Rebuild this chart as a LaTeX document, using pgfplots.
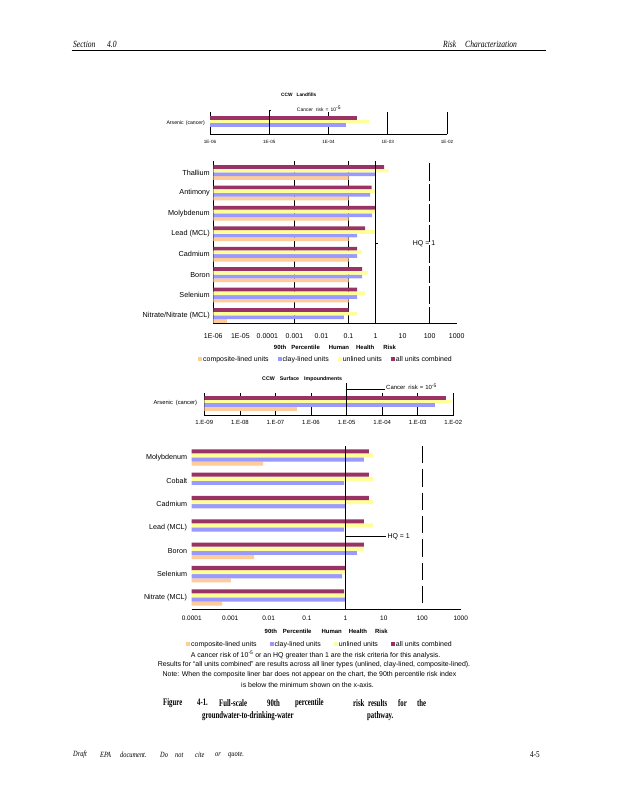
\documentclass[border=0pt]{standalone}
\usepackage{fontspec}
\setmainfont{Liberation Serif}
\setsansfont{Liberation Sans}
\newfontfamily\capfont[FakeStretch=0.68]{Liberation Serif}
\newfontfamily\hdfont[FakeStretch=0.8]{Liberation Serif}
\usepackage{pgfplots}
\pgfplotsset{compat=1.18}

\definecolor{allc}{HTML}{993366}
\definecolor{unl}{HTML}{FFFF99}
\definecolor{clay}{HTML}{9999FF}
\definecolor{comp}{HTML}{FFCC99}
\newcommand{\fs}[1]{\sffamily\fontsize{#1}{#1}\selectfont}

\begin{document}
\begin{tikzpicture}[x=1bp,y=1bp]
\fill[white] (0,0) rectangle (618,800);
\path[use as bounding box] (0,0) rectangle (618,800);

% page header and footer
\begin{scope}[every node/.style={inner sep=0pt, anchor=west}]
\node[font=\hdfont\itshape\fontsize{9.5}{10}\selectfont] at (73,756) {Section};
\node[font=\hdfont\itshape\fontsize{9.5}{10}\selectfont] at (107,756) {4.0};
\node[font=\hdfont\itshape\fontsize{9.5}{10}\selectfont] at (443,756) {Risk};
\node[font=\hdfont\itshape\fontsize{9.5}{10}\selectfont] at (465,756) {Characterization};
\draw[black, line width=1.1bp] (71.7,749.3) -- (545.7,749.3);
\foreach \w/\xx in {Draft/73, EPA/100, document./120, Do/160, not/175, cite/195, or/215, quote./228}
  \node[font=\hdfont\itshape\fontsize{8}{9}\selectfont] at (\xx,45) {\w};
\node[font=\hdfont\fontsize{9}{10}\selectfont] at (530,45) {4-5};
\end{scope}

% ---------------- CCW Landfills, arsenic ----------------
\node[font=\fs{4.8}\bfseries, anchor=west, inner sep=0pt] at (281,705) {CCW\hspace{4bp}Landfills};
\node[font=\fs{5}, anchor=west, inner sep=0pt] at (296.7,691) {Cancer\hspace{3bp}risk\hspace{2bp}=\hspace{2bp}10\textsuperscript{-5}};
\begin{axis}[scale only axis, anchor=south west, at={(210bp,665.5bp)}, width=237bp, height=22.5bp,
  xmode=log, log origin=infty, xbar=0pt, clip mode=individual,
  axis x line*=bottom, axis y line*=left,
  tick style={draw=none}, major tick length=0pt, minor tick length=0pt,
  axis line style={black, line width=0.6bp},
  xmin=1e-6, xmax=1e-2, ymin=-1.12, ymax=1.13, bar width=3.7bp,
  xtick={1e-6,1e-5,1e-4,1e-3,1e-2},
  xticklabels={1E-06,1E-05,1E-04,1E-03,1E-02},
  xmajorgrids, grid style={black, line width=0.6bp},
  xticklabel style={font=\fs{4.6}, anchor=center, yshift=-7.8bp},
  ytick={0}, yticklabels={Arsenic\hspace{2bp}(cancer)},
  yticklabel style={font=\fs{5.2}, anchor=east, inner sep=0pt, xshift=-5bp}]
\addplot[draw=none, fill=comp] coordinates {(5e-7,0)};
\addplot[draw=none, fill=clay] coordinates {(2.0e-4,0)};
\addplot[draw=none, fill=unl] coordinates {(4.9e-4,0)};
\addplot[draw=none, fill=allc] coordinates {(3.0e-4,0)};
\draw[black, line width=0.9bp] (axis cs:1e-5,-1.12) -- (axis cs:1e-5,1.33) -- (axis cs:1.07e-5,1.33);
\end{axis}

% ---------------- CCW Landfills, HQ ----------------
\begin{axis}[scale only axis, anchor=south west, at={(213.3bp,476.7bp)}, width=243.4bp, height=162.3bp,
  xmode=log, log origin=infty, xbar=0pt, clip mode=individual,
  axis x line*=bottom, axis y line*=left,
  tick style={draw=none}, major tick length=0pt, minor tick length=0pt,
  axis line style={black, line width=0.6bp},
  xmin=1e-6, xmax=1000, ymin=-0.382, ymax=7.563, bar width=3.7bp,
  xtick={1e-6,1e-5,1e-4,1e-3,1e-2,1e-1,1,10,100,1000},
  xticklabels={1E-06,1E-05,0.0001,0.001,0.01,0.1,1,10,100,1000},
  extra x ticks={1e-3,1e-1}, extra x tick labels={,},
  extra x tick style={grid=major, major grid style={black, line width=0.6bp}},
  xticklabel style={font=\fs{7}, anchor=center, yshift=-12.4bp},
  ytick={0,...,7},
  yticklabels={Nitrate/Nitrate (MCL),Selenium,Boron,Cadmium,Lead (MCL),Molybdenum,Antimony,Thallium},
  yticklabel style={font=\fs{7.3}, anchor=east, inner sep=0pt, xshift=-3.3bp},
  xlabel={90th\hspace{5bp}Percentile\hspace{9bp}Human\hspace{7bp}Health\hspace{9bp}Risk},
  xlabel style={font=\fs{6}\bfseries, at={(axis description cs:0.5,0)}, anchor=center, yshift=-24.4bp},
  legend columns=4, legend cell align=left,
  legend image code/.code={\fill[#1] (0bp,-2bp) rectangle (4bp,2bp);},
  legend style={at={(-0.0629,-0.2218)}, anchor=west, draw=none, fill=none, inner sep=0pt,
    nodes={inner sep=1bp}, font=\fs{7},
    /tikz/every even column/.append style={column sep=8bp}}]
\addplot[draw=none, fill=comp] coordinates {(3.2e-6,0) (0.1,1) (0.1,2) (0.1,3) (0.1,4) (0.1,5) (0.1,6) (0.1,7)};
\addplot[draw=none, fill=clay] coordinates {(0.068,0) (0.21,1) (0.32,2) (0.21,3) (0.21,4) (0.74,5) (0.63,6) (0.98,7)};
\addplot[draw=none, fill=unl] coordinates {(0.21,0) (0.41,1) (0.53,2) (0.32,3) (0.95,4) (0.95,5) (0.95,6) (3.0,7)};
\addplot[draw=none, fill=allc] coordinates {(0.1,0) (0.21,1) (0.32,2) (0.21,3) (0.41,4) (1.0,5) (0.72,6) (2.05,7)};
\legend{composite-lined units, clay-lined units, unlined units, all units combined}
\draw[black, line width=0.8bp] (axis cs:1,-0.382) -- (axis cs:1,7.563);
\draw[black, line width=0.8bp] (axis cs:1,3.534) -- (axis cs:1.2,3.534);
\draw[black, line width=0.8bp, dash pattern=on 17.43bp off 3bp] (axis cs:100,7.44) -- (axis cs:100,-0.382);
\end{axis}
\node[font=\fs{7}, anchor=west, inner sep=0pt] at (412.7,556.7) {HQ = 1};

% ---------------- CCW Surface Impoundments, arsenic ----------------
\node[font=\fs{5.3}\bfseries, anchor=west, inner sep=0pt] at (262,421) {CCW\hspace{5bp}Surface\hspace{5bp}Impoundments};
\node[font=\fs{6}, anchor=west, inner sep=0pt] at (386,413.3) {Cancer\hspace{3bp}risk\hspace{2bp}=\hspace{2bp}10\textsuperscript{-5}};
\begin{axis}[scale only axis, anchor=south west, at={(204.3bp,384.3bp)}, width=249bp, height=22.7bp,
  xmode=log, log origin=infty, xbar=0pt, clip mode=individual,
  axis x line*=bottom, axis y line*=left,
  tick style={draw=none}, major tick length=0pt, minor tick length=0pt,
  axis line style={black, line width=0.6bp},
  xmin=1e-9, xmax=1e-2, ymin=-1.24, ymax=1.03, bar width=3.7bp,
  xtick={1e-9,1e-8,1e-7,1e-6,1e-5,1e-4,1e-3,1e-2},
  xticklabels={1.E-09,1.E-08,1.E-07,1.E-06,1.E-05,1.E-04,1.E-03,1.E-02},
  xmajorgrids, grid style={black, line width=0.6bp},
  xticklabel style={font=\fs{6}, anchor=center, yshift=-6.6bp},
  ytick={0}, yticklabels={Arsenic\hspace{3bp}(cancer)},
  yticklabel style={font=\fs{5.8}, anchor=east, inner sep=0pt, xshift=-7bp}]
\addplot[draw=none, fill=comp] coordinates {(4.1e-7,0)};
\addplot[draw=none, fill=clay] coordinates {(3.1e-3,0)};
\addplot[draw=none, fill=unl] coordinates {(9.3e-3,0)};
\addplot[draw=none, fill=allc] coordinates {(6.3e-3,0)};
\draw[black, line width=1.1bp] (axis cs:1e-5,-1.24) -- (axis cs:1e-5,2.03);
\draw[black, line width=0.8bp] (axis cs:1e-5,1.43) -- (axis cs:1.2e-4,1.43);
\end{axis}

% ---------------- CCW Surface Impoundments, HQ ----------------
\begin{axis}[scale only axis, anchor=south west, at={(191.7bp,190.7bp)}, width=269bp, height=163.3bp,
  xmode=log, log origin=infty, xbar=0pt, clip mode=individual,
  axis x line*=bottom, axis y line*=left,
  tick style={draw=none}, major tick length=0pt, minor tick length=0pt,
  axis line style={black, line width=0.6bp}, y axis line style={draw=none},
  xmin=1e-4, xmax=1000, ymin=-0.506, ymax=6.493, bar width=4.1bp,
  xtick={1e-4,1e-3,1e-2,1e-1,1,10,100,1000},
  xticklabels={0.0001,0.001,0.01,0.1,1,10,100,1000},
  xticklabel style={font=\fs{6.5}, anchor=center, yshift=-9bp},
  ytick={0,...,6},
  yticklabels={Nitrate (MCL),Selenium,Boron,Lead (MCL),Cadmium,Cobalt,Molybdenum},
  yticklabel style={font=\fs{7.2}, anchor=east, inner sep=0pt, xshift=-4.4bp},
  xlabel={90th\hspace{6bp}Percentile\hspace{10bp}Human\hspace{7bp}Health\hspace{8bp}Risk},
  xlabel style={font=\fs{6}\bfseries, at={(axis description cs:0.5,0)}, anchor=center, yshift=-22.4bp},
  legend columns=4, legend cell align=left,
  legend image code/.code={\fill[#1] (0bp,-2bp) rectangle (4bp,2bp);},
  legend style={at={(-0.0212,-0.2143)}, anchor=west, draw=none, fill=none, inner sep=0pt,
    nodes={inner sep=1bp}, font=\fs{7},
    /tikz/every even column/.append style={column sep=12bp}}]
\addplot[draw=none, fill=comp] coordinates {(6.2e-4,0) (1.05e-3,1) (4.2e-3,2) (5e-5,3) (5e-5,4) (5e-5,5) (7.2e-3,6)};
\addplot[draw=none, fill=clay] coordinates {(1.0,0) (0.82,1) (2.0,2) (0.92,3) (1.0,4) (0.92,5) (3.0,6)};
\addplot[draw=none, fill=unl] coordinates {(1.0,0) (1.0,1) (3.0,2) (5.2,3) (5.2,4) (5.2,5) (5.2,6)};
\addplot[draw=none, fill=allc] coordinates {(0.92,0) (1.0,1) (3.0,2) (3.0,3) (4.1,4) (4.1,5) (4.1,6)};
\legend{composite-lined units, clay-lined units, unlined units, all units combined}
\draw[black, line width=0.8bp] (axis cs:1,-0.506) -- (axis cs:1,6.493);
\draw[black, line width=0.8bp] (axis cs:1,2.606) -- (axis cs:11.4,2.606);
\draw[black, line width=0.8bp, dash pattern=on 17.3bp off 6.03bp] (axis cs:100,6.493) -- (axis cs:100,-0.506);
\end{axis}
\node[font=\fs{7}, anchor=west, inner sep=0pt] at (387.3,263.3) {HQ = 1};

% ---------------- notes and caption ----------------
\begin{scope}[every node/.style={inner sep=0pt, font=\fs{7}}]
\node at (315.5,145) {A cancer risk of 10\textsuperscript{-5} or an HQ greater than 1 are the risk criteria for this analysis.};
\node at (314,135) {Results for “all units combined” are results across all liner types (unlined, clay-lined, composite-lined).};
\node at (309.5,125) {Note: When the composite liner bar does not appear on the chart, the 90th percentile risk index};
\node at (307.5,115) {is below the minimum shown on the x-axis.};
\end{scope}
\begin{scope}[every node/.style={inner sep=0pt, anchor=west, font=\capfont\bfseries\fontsize{10}{11}\selectfont}]
\foreach \w/\xx in {Figure/163, 4-1./197, Full-scale/219, 90th/267, percentile/295, risk/353, results/368, for/398, the/417}
  \node at (\xx,97.3) {\w};
\node at (202,84) {groundwater-to-drinking-water};
\node at (367,84) {pathway.};
\end{scope}
\end{tikzpicture}
\end{document}
